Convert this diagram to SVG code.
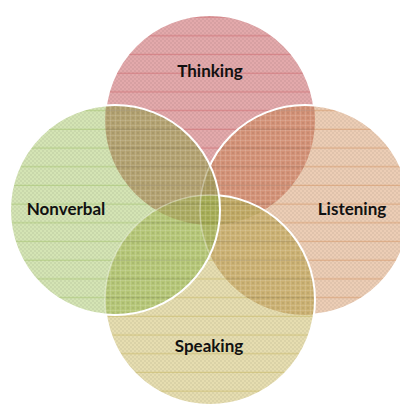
<svg xmlns="http://www.w3.org/2000/svg" width="400" height="406" viewBox="0 0 400 406">
<style>
.lbl{font-family:Lato,"Open Sans","Liberation Sans",sans-serif;font-weight:bold;font-size:17px;fill:#111;text-anchor:middle}
.edge{fill:none;stroke:#fff;stroke-width:2}
.faint{fill:none;stroke:#fff;stroke-width:1.5;opacity:0.35}
</style>
<defs>
<pattern id="chk" width="4" height="4" patternUnits="userSpaceOnUse">
<rect x="0" y="0" width="2" height="2" fill="#000" opacity="0.05"/>
<rect x="2" y="2" width="2" height="2" fill="#000" opacity="0.05"/>
</pattern>
<pattern id="plaid" width="5" height="5" patternUnits="userSpaceOnUse">
<rect x="0" y="0" width="5" height="1" fill="#fff" opacity="0.12"/>
<rect x="0" y="0" width="1" height="5" fill="#fff" opacity="0.12"/>
<rect x="2" y="2" width="2" height="2" fill="#000" opacity="0.06"/>
</pattern>
<pattern id="lnT" width="10" height="18.7" patternUnits="userSpaceOnUse"><rect x="0" y="16.5" width="10" height="1.1" fill="#cf6f74" opacity="0.7"/></pattern>
<pattern id="lnN" width="10" height="18.7" patternUnits="userSpaceOnUse"><rect x="0" y="16.5" width="10" height="1.1" fill="#a9c775" opacity="0.7"/></pattern>
<pattern id="lnL" width="10" height="18.7" patternUnits="userSpaceOnUse"><rect x="0" y="16.5" width="10" height="1.1" fill="#d69a6c" opacity="0.7"/></pattern>
<pattern id="lnS" width="10" height="18.7" patternUnits="userSpaceOnUse"><rect x="0" y="16.5" width="10" height="1.1" fill="#cbbd6e" opacity="0.7"/></pattern>
<pattern id="lnD" width="10" height="18.7" patternUnits="userSpaceOnUse"><rect x="0" y="16.5" width="10" height="1.1" fill="#000" opacity="0.12"/></pattern>
<clipPath id="cT"><circle cx="210" cy="120" r="105"/></clipPath>
<clipPath id="cN"><circle cx="115" cy="210" r="105"/></clipPath>
<clipPath id="cL"><circle cx="305" cy="210" r="105"/></clipPath>
<clipPath id="cS"><circle cx="210" cy="300" r="105"/></clipPath>
<g id="tex"><rect x="0" y="0" width="400" height="406" fill="url(#plaid)"/><rect x="0" y="0" width="400" height="406" fill="url(#lnD)"/></g>
</defs>

<g id="thinking">
<circle cx="210" cy="120" r="105" fill="#e3a9ab"/><circle cx="210" cy="120" r="105" fill="url(#chk)"/><circle cx="210" cy="120" r="105" fill="url(#lnT)"/>
<circle class="edge" cx="210" cy="120" r="105"/>
</g>

<g id="listening">
<circle cx="305" cy="210" r="105" fill="#eccdb5"/><circle cx="305" cy="210" r="105" fill="url(#chk)"/><circle cx="305" cy="210" r="105" fill="url(#lnL)"/>
<g clip-path="url(#cT)"><g clip-path="url(#cL)"><rect x="0" y="0" width="400" height="406" fill="#d39277"/><use href="#tex"/></g></g>
<circle class="edge" cx="305" cy="210" r="105"/>
</g>

<g id="speaking">
<circle cx="210" cy="300" r="105" fill="#e6ddb0"/><circle cx="210" cy="300" r="105" fill="url(#chk)"/><circle cx="210" cy="300" r="105" fill="url(#lnS)"/>
<g clip-path="url(#cL)"><g clip-path="url(#cS)"><rect x="0" y="0" width="400" height="406" fill="#cbb173"/><use href="#tex"/></g></g>
<g clip-path="url(#cT)"><g clip-path="url(#cS)"><rect x="0" y="0" width="400" height="406" fill="#c0a866"/><use href="#tex"/></g></g>
<g clip-path="url(#cT)"><g clip-path="url(#cL)"><g clip-path="url(#cS)"><rect x="0" y="0" width="400" height="406" fill="#bfa864"/><use href="#tex"/></g></g></g>
<circle class="edge" cx="210" cy="300" r="105"/>
</g>

<g id="nonverbal">
<circle cx="115" cy="210" r="105" fill="#d4e4b4"/><circle cx="115" cy="210" r="105" fill="url(#chk)"/><circle cx="115" cy="210" r="105" fill="url(#lnN)"/>
<g clip-path="url(#cT)"><g clip-path="url(#cN)"><rect x="0" y="0" width="400" height="406" fill="#b3a271"/><use href="#tex"/></g></g>
<g clip-path="url(#cN)"><g clip-path="url(#cS)"><rect x="0" y="0" width="400" height="406" fill="#b5c677"/><use href="#tex"/></g></g>
<g clip-path="url(#cN)"><g clip-path="url(#cL)"><rect x="0" y="0" width="400" height="406" fill="#aab062"/><use href="#tex"/></g></g>
<g clip-path="url(#cT)"><g clip-path="url(#cN)"><g clip-path="url(#cL)"><rect x="0" y="0" width="400" height="406" fill="#a99a60"/><use href="#tex"/></g></g></g>
<g clip-path="url(#cT)"><g clip-path="url(#cN)"><g clip-path="url(#cS)"><rect x="0" y="0" width="400" height="406" fill="#abab62"/><use href="#tex"/></g></g></g>
<g clip-path="url(#cN)"><g clip-path="url(#cL)"><g clip-path="url(#cS)"><rect x="0" y="0" width="400" height="406" fill="#adb665"/><use href="#tex"/></g></g></g>
<g clip-path="url(#cT)"><g clip-path="url(#cN)"><g clip-path="url(#cL)"><g clip-path="url(#cS)"><rect x="0" y="0" width="400" height="406" fill="#a6ad56"/><use href="#tex"/></g></g></g></g>
<g clip-path="url(#cN)">
<circle class="faint" cx="305" cy="210" r="105"/>
<circle class="faint" cx="210" cy="300" r="105"/>
</g>
<circle class="edge" cx="115" cy="210" r="105"/>
</g>

<g id="labels">
<text class="lbl" x="210" y="77">Thinking</text>
<text class="lbl" x="66" y="215">Nonverbal</text>
<text class="lbl" x="352" y="215">Listening</text>
<text class="lbl" x="209" y="352">Speaking</text>
</g>
</svg>
